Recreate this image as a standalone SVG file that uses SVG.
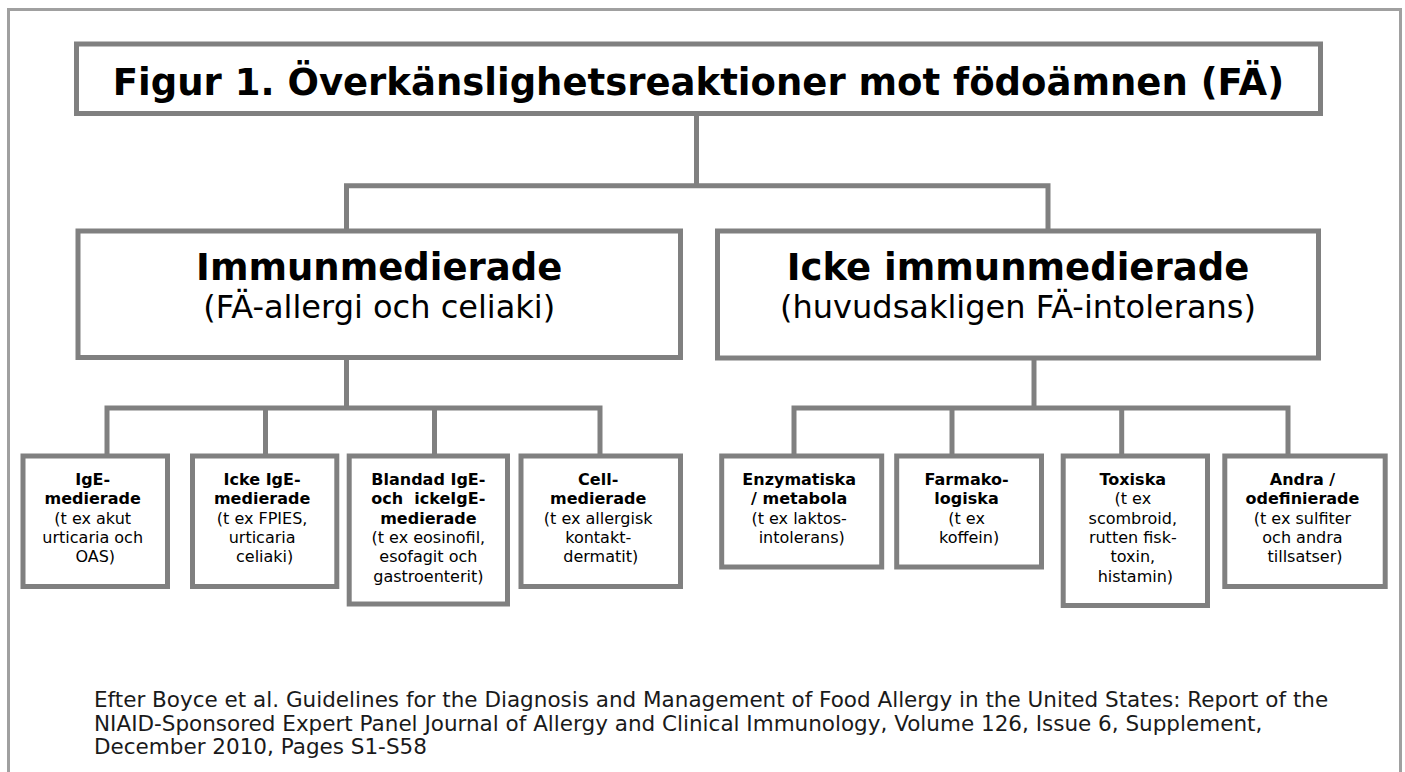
<svg xmlns="http://www.w3.org/2000/svg" width="1405" height="772" viewBox="0 0 1405 772">
<style>
  .box { fill: #ffffff; stroke: #808080; stroke-width: 5; }
  .conn { fill: none; stroke: #808080; stroke-width: 5; }
  .frame { fill: none; stroke: #a0a0a0; stroke-width: 3; }
  text { font-family: "DejaVu Sans", Verdana, sans-serif; fill: #000; text-anchor: middle; }
  .title { font-size: 37px; font-weight: bold; }
  .head { font-size: 37px; font-weight: bold; }
  .sub { font-size: 32px; }
  .sb { font-size: 16px; }
  .b { font-weight: bold; }
  .foot { font-size: 21.5px; text-anchor: start; fill: #1a1a1a; }
</style>
<rect x="0" y="0" width="1405" height="772" fill="#ffffff"/>
<path class="frame" d="M8.5,772 V9.5 H1400.5 V772"/>

<g id="connectors">
  <path class="conn" d="M696.5,113.5 V185.8"/>
  <path class="conn" d="M346.5,231 V185.8 H1048 V231"/>
  <path class="conn" d="M346.5,357.5 V408"/>
  <path class="conn" d="M107,456 V408 H600 V456"/>
  <path class="conn" d="M265.5,408 V456"/>
  <path class="conn" d="M434.5,408 V456"/>
  <path class="conn" d="M1034,358 V408"/>
  <path class="conn" d="M794,456 V408 H1288 V456"/>
  <path class="conn" d="M952,408 V456"/>
  <path class="conn" d="M1121.7,408 V456"/>
</g>

<g id="title">
  <rect class="box" x="76.5" y="44" width="1244" height="69.5"/>
  <text class="title" x="698.5" y="95">Figur 1. Överkänslighetsreaktioner mot födoämnen (FÄ)</text>
</g>

<g id="immunmedierade">
  <rect class="box" x="78" y="231" width="602.5" height="126.5"/>
  <text class="head" x="379.25" y="280">Immunmedierade</text>
  <text class="sub" x="379.25" y="318">(FÄ-allergi och celiaki)</text>
</g>

<g id="icke-immunmedierade">
  <rect class="box" x="717.5" y="231" width="601" height="127"/>
  <text class="head" x="1018" y="280">Icke immunmedierade</text>
  <text class="sub" x="1018" y="318">(huvudsakligen FÄ-intolerans)</text>
</g>

<g id="ige">
  <rect class="box" x="23" y="456" width="144.5" height="130.5"/>
  <text class="sb" y="485">
    <tspan class="b" x="95.25">IgE-</tspan>
    <tspan class="b" x="95.25" dy="19.3">medierade</tspan>
    <tspan x="95.25" dy="19.3">(t ex akut</tspan>
    <tspan x="95.25" dy="19.3">urticaria och</tspan>
    <tspan x="95.25" dy="19.3">OAS)</tspan>
  </text>
</g>

<g id="icke-ige">
  <rect class="box" x="192.5" y="456" width="144.3" height="130.5"/>
  <text class="sb" y="485">
    <tspan class="b" x="264.65">Icke IgE-</tspan>
    <tspan class="b" x="264.65" dy="19.3">medierade</tspan>
    <tspan x="264.65" dy="19.3">(t ex FPIES,</tspan>
    <tspan x="264.65" dy="19.3">urticaria</tspan>
    <tspan x="264.65" dy="19.3">celiaki)</tspan>
  </text>
</g>

<g id="blandad">
  <rect class="box" x="349.2" y="456" width="158.3" height="148"/>
  <text class="sb" y="485" xml:space="preserve"><tspan class="b" x="428.35">Blandad IgE-</tspan><tspan class="b" x="428.35" dy="19.3">och  ickeIgE-</tspan><tspan class="b" x="428.35" dy="19.3">medierade</tspan><tspan x="428.35" dy="19.3">(t ex eosinofil,</tspan><tspan x="428.35" dy="19.3">esofagit och</tspan><tspan x="428.35" dy="19.3">gastroenterit)</tspan></text>
</g>

<g id="cell">
  <rect class="box" x="521" y="456" width="159.5" height="130.5"/>
  <text class="sb" y="485">
    <tspan class="b" x="600.75">Cell-</tspan>
    <tspan class="b" x="600.75" dy="19.3">medierade</tspan>
    <tspan x="600.75" dy="19.3">(t ex allergisk</tspan>
    <tspan x="600.75" dy="19.3">kontakt-</tspan>
    <tspan x="600.75" dy="19.3">dermatit)</tspan>
  </text>
</g>

<g id="enzymatiska">
  <rect class="box" x="721.7" y="456" width="160" height="111"/>
  <text class="sb" y="485">
    <tspan class="b" x="801.7">Enzymatiska</tspan>
    <tspan class="b" x="801.7" dy="19.3">/ metabola</tspan>
    <tspan x="801.7" dy="19.3">(t ex laktos-</tspan>
    <tspan x="801.7" dy="19.3">intolerans)</tspan>
  </text>
</g>

<g id="farmakologiska">
  <rect class="box" x="896.7" y="456" width="144.8" height="111"/>
  <text class="sb" y="485">
    <tspan class="b" x="969.1">Farmako-</tspan>
    <tspan class="b" x="969.1" dy="19.3">logiska</tspan>
    <tspan x="969.1" dy="19.3">(t ex</tspan>
    <tspan x="969.1" dy="19.3">koffein)</tspan>
  </text>
</g>

<g id="toxiska">
  <rect class="box" x="1063.2" y="456" width="144.3" height="149.5"/>
  <text class="sb" y="485">
    <tspan class="b" x="1135.35">Toxiska</tspan>
    <tspan x="1135.35" dy="19.3">(t ex</tspan>
    <tspan x="1135.35" dy="19.3">scombroid,</tspan>
    <tspan x="1135.35" dy="19.3">rutten fisk-</tspan>
    <tspan x="1135.35" dy="19.3">toxin,</tspan>
    <tspan x="1135.35" dy="19.3">histamin)</tspan>
  </text>
</g>

<g id="andra">
  <rect class="box" x="1224.8" y="456" width="160.4" height="130.5"/>
  <text class="sb" y="485">
    <tspan class="b" x="1305">Andra /</tspan>
    <tspan class="b" x="1305" dy="19.3">odefinierade</tspan>
    <tspan x="1305" dy="19.3">(t ex sulfiter</tspan>
    <tspan x="1305" dy="19.3">och andra</tspan>
    <tspan x="1305" dy="19.3">tillsatser)</tspan>
  </text>
</g>

<g id="footer">
  <text class="foot" x="94" y="707">Efter Boyce et al. Guidelines for the Diagnosis and Management of Food Allergy in the United States: Report of the</text>
  <text class="foot" x="94" y="730.5">NIAID-Sponsored Expert Panel Journal of Allergy and Clinical Immunology, Volume 126, Issue 6, Supplement,</text>
  <text class="foot" x="94" y="754">December 2010, Pages S1-S58</text>
</g>
</svg>
